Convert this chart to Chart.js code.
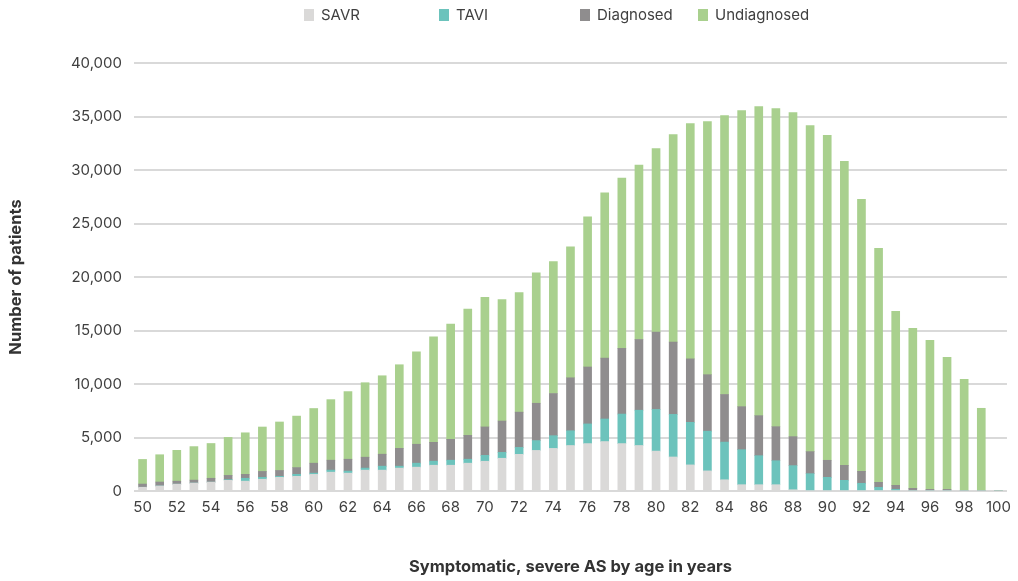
<!DOCTYPE html>
<html>
<head>
<meta charset="utf-8">
<script src="https://cdn.jsdelivr.net/npm/chart.js@4.4.1/dist/chart.umd.min.js"></script>
<style>
html,body{margin:0;padding:0;background:#fff;}
#wrap{width:1018px;height:581px;position:relative;}
</style>
</head>
<body>
<div id="wrap"><canvas id="c"></canvas></div>
<script>
const ages = ['50','51','52','53','54','55','56','57','58','59','60','61','62','63','64','65','66','67','68','69','70','71','72','73','74','75','76','77','78','79','80','81','82','83','84','85','86','87','88','89','90','91','92','93','94','95','96','97','98','99','100'];

const savr = [350,470,640,740,830,1000,920,1100,1280,1370,
  1550,1760,1670,1950,1950,2140,2230,2410,2410,2600,
  2780,3060,3430,3790,3980,4250,4430,4620,4430,4250,
  3730,3180,2440,1880,1050,590,590,590,120,0,
  0,0,0,0,0,0,0,0,0,0,0];

const tavi = [0,0,0,0,0,60,270,180,90,190,
  120,190,190,190,370,180,370,380,470,370,
  550,550,640,920,1190,1380,1840,2110,2760,3300,
  3890,3980,3980,3710,3520,3270,2710,2240,2250,1620,
  1280,1000,720,340,160,0,0,0,0,0,0];

const diagnosed = [300,370,280,280,360,400,370,550,550,630,
  930,930,1110,1020,1120,1670,1770,1760,1950,2230,
  2660,2930,3300,3490,3940,4950,5320,5690,6140,6610,
  7230,6760,5930,5280,4450,4020,3740,3180,2710,2060,
  1590,1400,1120,470,370,250,150,150,0,0,0];

const undiagnosed = [2300,2550,2880,3130,3250,3550,3880,4150,4530,4810,
  5110,5660,6320,6960,7330,7810,8630,9850,10770,11800,
  12110,11350,11170,12200,12320,12250,14030,15440,15920,16310,
  17150,19380,21980,23650,26060,27670,28880,29720,30280,30460,
  30370,28410,25420,21870,16260,14950,13930,12340,10440,7730,0];

const seriesNames = ['SAVR','TAVI','Diagnosed','Undiagnosed'];
const seriesColors = ['#dad9d8','#6cc3bc','#8f8d8e','#a9d08e'];

const FONT = 'Inter, "Open Sans", sans-serif';
const TEXT = '#404040';
const LEGEND_X = [304, 439, 580, 698];

const topLegend = {
  id: 'topLegend',
  afterDraw(chart) {
    const ctx = chart.ctx;
    ctx.save();
    ctx.font = '15px ' + FONT;
    ctx.textBaseline = 'middle';
    ctx.textAlign = 'left';
    chart.data.datasets.forEach((ds, i) => {
      const x = LEGEND_X[i];
      ctx.fillStyle = ds.backgroundColor;
      ctx.fillRect(x, 9, 10, 12);
      ctx.fillStyle = TEXT;
      ctx.fillText(ds.label, x + 17, 15);
    });
    ctx.restore();
  }
};

const seriesData = [savr, tavi, diagnosed, undiagnosed];

new Chart(document.getElementById('c'), {
  type: 'bar',
  data: {
    labels: ages,
    datasets: seriesNames.map((n, i) => ({
      label: n,
      data: seriesData[i],
      backgroundColor: seriesColors[i],
      borderWidth: 0,
      barThickness: 8
    }))
  },
  options: {
    responsive: true,
    maintainAspectRatio: false,
    animation: false,
    layout: { padding: { top: 63, right: 9, bottom: 0, left: 0 } },
    plugins: { legend: { display: false }, tooltip: { enabled: false } },
    scales: {
      x: {
        stacked: true,
        offset: true,
        grid: { display: false, drawTicks: false },
        border: { display: false },
        ticks: {
          autoSkip: false, maxRotation: 0, minRotation: 0, padding: 7,
          color: TEXT, font: { family: FONT, size: 15 },
          callback: function(v, i) { const l = this.getLabelForValue(v); return (parseInt(l) % 2 === 0) ? l : ''; }
        },
        title: {
          display: true, text: 'Symptomatic, severe AS by age in years',
          color: '#333', font: { family: FONT, size: 16.5, weight: 'bold' },
          padding: { top: 0, bottom: 4 }
        },
        afterFit: (s) => { s.height = 90; }
      },
      y: {
        stacked: true,
        min: 0, max: 40000,
        ticks: {
          stepSize: 5000, padding: 12, color: TEXT,
          font: { family: FONT, size: 15 },
          callback: (v) => v.toLocaleString('en-US')
        },
        grid: { color: '#d9d9d9', lineWidth: 2, drawTicks: false },
        border: { display: false },
        title: {
          display: true, text: 'Number of patients',
          color: '#333', font: { family: FONT, size: 16.5, weight: 'bold' },
          padding: { top: 6, bottom: 0 }
        },
        afterFit: (s) => { s.width = 134; }
      }
    }
  },
  plugins: [topLegend]
});
</script>
</body>
</html>
